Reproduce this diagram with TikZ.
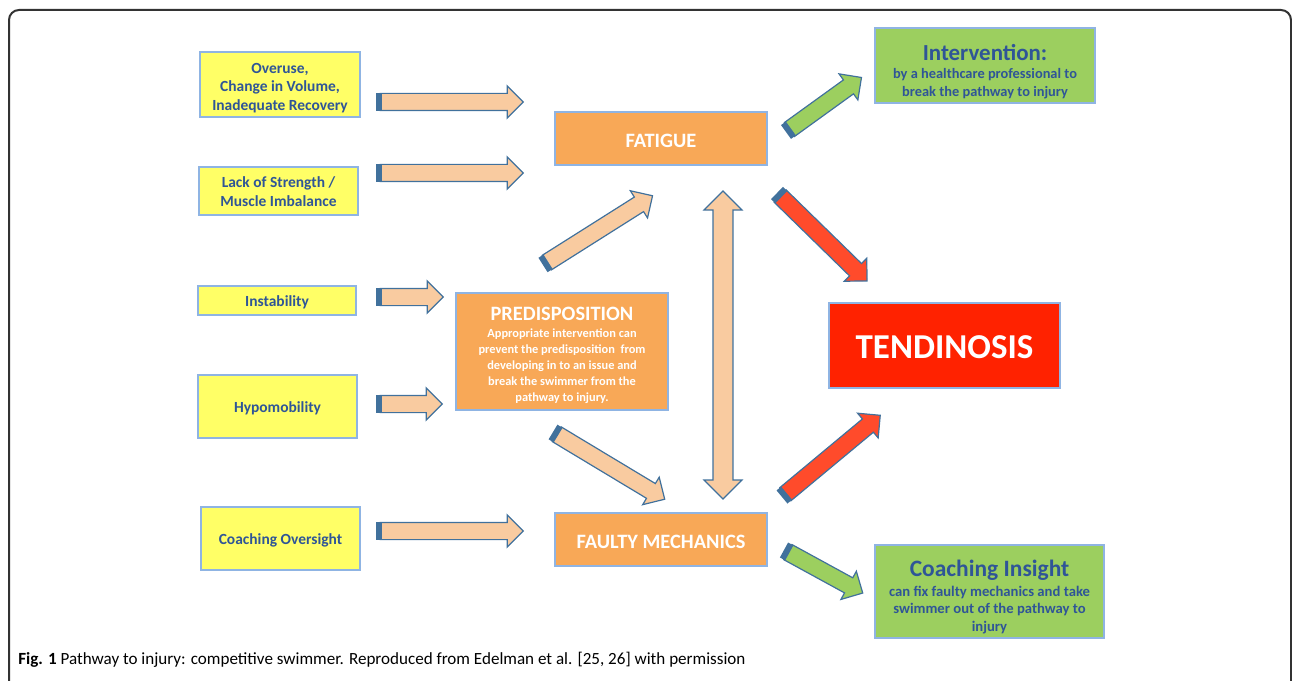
\documentclass[tikz,border=0pt]{standalone}
\usepackage{fontspec}
\setmainfont{Carlito}
\usetikzlibrary{shapes.arrows,calc}
\definecolor{yfill}{HTML}{FFFF66}
\definecolor{boxline}{HTML}{8FB4E3}
\definecolor{tblue}{HTML}{2F5597}
\definecolor{ofill}{HTML}{F8A857}
\definecolor{rfill}{HTML}{FF2200}
\definecolor{gfill}{HTML}{9CCF5F}
\definecolor{peach}{HTML}{F9CBA0}
\definecolor{ared}{HTML}{FF4B2B}
\definecolor{aline}{HTML}{41719C}
\definecolor{stubc}{HTML}{41719C}
\definecolor{framec}{HTML}{333333}
\tikzset{
  base/.style={draw=boxline, line width=0.9pt, inner sep=0pt},
  ybox/.style={base, fill=yfill, text=tblue, font=\bfseries\fontsize{11.6}{13.9}\selectfont},
  obox/.style={base, fill=ofill, text=white, font=\bfseries\fontsize{15.3}{18}\selectfont},
  rbox/.style={base, fill=rfill, text=white, font=\bfseries\fontsize{26.2}{30}\selectfont},
  gbox/.style={base, fill=gfill, text=tblue},
  barrow/.style={single arrow, draw=aline, line width=0.9pt, inner sep=0pt,
    inner ysep=6pt, single arrow head extend=5.6pt},
  darrow/.style={double arrow, draw=aline, line width=0.9pt, inner sep=0pt,
    inner ysep=7pt, double arrow head extend=6.8pt, fill=peach},
  stub/.style={draw=stubc, line width=12.8pt},
}
% box text: centred lines, lowered by #1
\newcommand\lowered[2]{\raisebox{-#1}[\height][\depth]{\begin{tabular}{@{}c@{}}#2\end{tabular}}}
\newcommand\blockarrow[5][peach]{%
  \path let \p1=(#3), \p2=(#4), \n1={atan2(\y2-\y1,\x2-\x1)},
    \n2={veclen(\x2-\x1,\y2-\y1)} in
    node[barrow, fill=#1, rotate=\n1, minimum height=\n2, #5] (#2) at ($(#3)!0.5!(#4)$) {};
  \draw[stub] (#3) -- ($(#3)!4.5pt!(#4)$);
}
\begin{document}
\begin{tikzpicture}[x=0.75pt,y=-0.75pt]
\useasboundingbox (0,0) rectangle (1292,681);
% frame
\draw[framec, line width=1.5pt, rounded corners=7.5pt] (9,700) -- (9,10) -- (1291,10) -- (1291,700);

% left boxes
\node[ybox, minimum width=120pt, minimum height=48.75pt] (over) at (280,84.5)
  {\lowered{2.6pt}{Overuse,\\Change in Volume,\\Inadequate Recovery}};
\node[ybox, minimum width=119.25pt, minimum height=36pt] (lack) at (278.5,191)
  {\lowered{1.6pt}{Lack of Strength /\\Muscle Imbalance}};
\node[ybox, minimum width=118.5pt, minimum height=21.75pt] (inst) at (277,300.5) {\lowered{2pt}{Instability}};
\node[ybox, minimum width=119.25pt, minimum height=47.25pt] (hypo) at (277.5,406.5) {\lowered{2pt}{Hypomobility}};
\node[ybox, minimum width=119.25pt, minimum height=47.25pt] (coach) at (280.5,538.5) {\lowered{1.8pt}{Coaching Oversight}};

% middle boxes
\node[obox, minimum width=159pt, minimum height=39.75pt] (fat) at (661,138.5) {\lowered{3pt}{FATIGUE}};
\node[base, fill=ofill, text=white, minimum width=159pt, minimum height=87.75pt,
  font=\bfseries\fontsize{9.3}{12}\selectfont] (pre) at (562,351.5)
  {\lowered{4pt}{{\fontsize{15.3}{17}\selectfont PREDISPOSITION}\\[1.2pt]
   Appropriate intervention can\\
   prevent the predisposition~~from\\
   developing in to an issue and\\
   break the swimmer from the\\
   pathway to injury.}};
\node[obox, minimum width=159pt, minimum height=39.75pt] (faulty) at (661,539.5) {\lowered{3.2pt}{FAULTY MECHANICS}};

% right boxes
\node[rbox, minimum width=173.25pt, minimum height=63.75pt] (tend) at (944.5,345.5) {\lowered{4pt}{TENDINOSIS}};
\node[gbox, minimum width=165pt, minimum height=56.25pt,
  font=\bfseries\fontsize{10.8}{13.5}\selectfont] (interv) at (985,65.5)
  {\lowered{5.8pt}{{\fontsize{17.2}{19}\selectfont Intervention:}\\
   by a healthcare professional to\\
   break the pathway to injury}};
\node[gbox, minimum width=171.75pt, minimum height=69.75pt,
  font=\bfseries\fontsize{11}{13}\selectfont] (insight) at (989.5,591.5)
  {\lowered{5pt}{{\fontsize{17.6}{19}\selectfont Coaching Insight}\\[2.2pt]
   can fix faulty mechanics and take\\
   swimmer out of the pathway to\\
   injury}};

% arrow end points
\coordinate (t1) at (376,102); \coordinate (h1) at (519,102);
\coordinate (t2) at (376,173); \coordinate (h2) at (519,173);
\coordinate (t3) at (376,297); \coordinate (h3) at (439,297);
\coordinate (t4) at (376,404); \coordinate (h4) at (438,404);
\coordinate (t5) at (376,531); \coordinate (h5) at (519,531);
\coordinate (t6) at (543,265); \coordinate (h6) at (649,198);
\coordinate (t8) at (553,432); \coordinate (h8) at (661,497);
\coordinate (t9) at (786,132); \coordinate (h9) at (858,80);
\coordinate (t10) at (777,193); \coordinate (h10) at (864,278);
\coordinate (t11) at (782,497); \coordinate (h11) at (877,418);
\coordinate (t12) at (784,550); \coordinate (h12) at (859,591);
\coordinate (v1) at (723,191); \coordinate (v2) at (723,499);

\blockarrow{a1}{t1}{h1}{}
\blockarrow{a2}{t2}{h2}{}
\blockarrow{a3}{t3}{h3}{}
\blockarrow{a4}{t4}{h4}{}
\blockarrow{a5}{t5}{h5}{}
\blockarrow{a6}{t6}{h6}{}
\blockarrow{a8}{t8}{h8}{}
\blockarrow[gfill]{a9}{t9}{h9}{}
\blockarrow[ared]{a10}{t10}{h10}{}
\blockarrow[ared]{a11}{t11}{h11}{}
\blockarrow[gfill]{a12}{t12}{h12}{}
\path let \p1=(v1), \p2=(v2), \n2={veclen(\x2-\x1,\y2-\y1)} in
  node[darrow, rotate=90, minimum height=\n2] (a7) at ($(v1)!0.5!(v2)$) {};

% caption
\node[anchor=base west, inner sep=0pt, font=\fontsize{12.8}{14}\selectfont] (cap) at (18,664)
  {\textbf{Fig. 1} Pathway to injury: competitive swimmer. Reproduced from Edelman et al. [25, 26] with permission};
\end{tikzpicture}
\end{document}
